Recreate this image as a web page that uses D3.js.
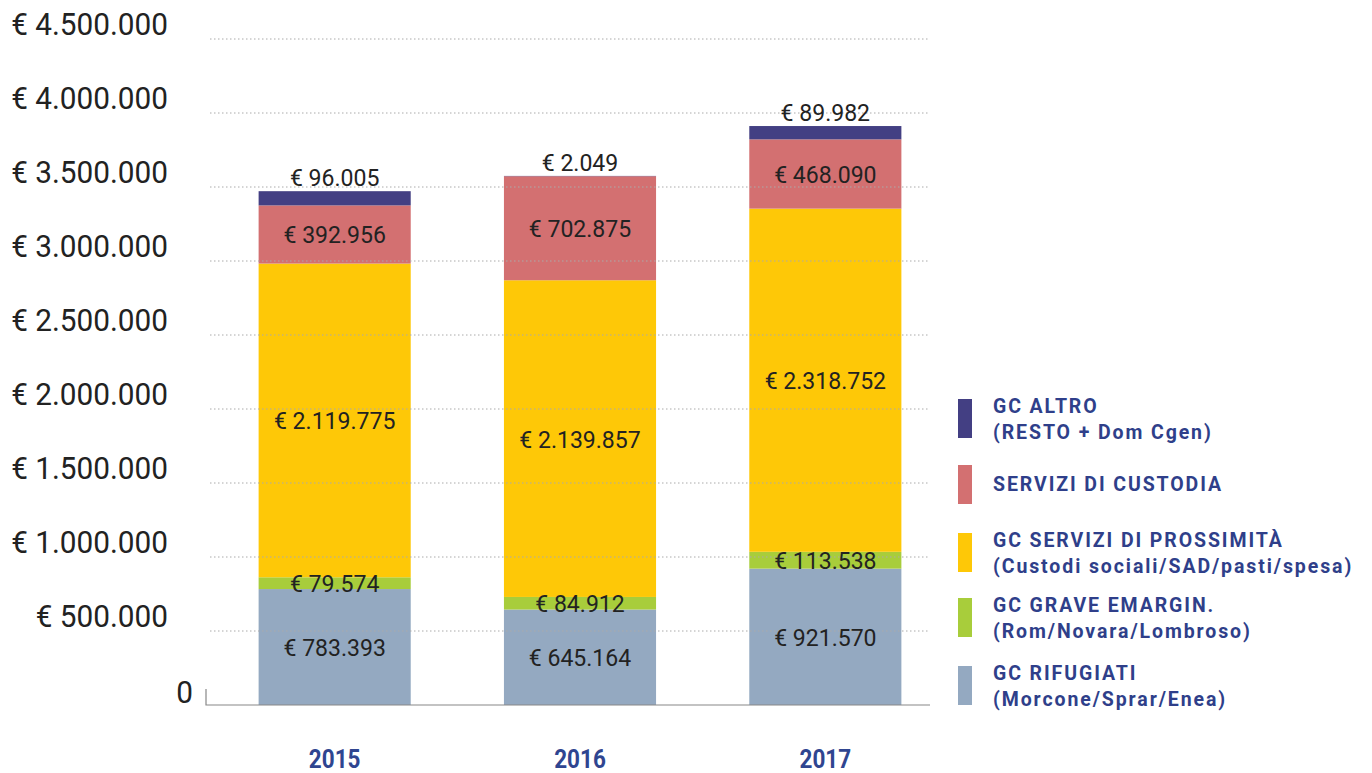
<!DOCTYPE html>
<html>
<head>
<meta charset="utf-8">
<script src="https://cdn.jsdelivr.net/npm/d3@7"></script>
<style>
  body { margin: 0; background: #fff; }
  .ylab { font-family: Roboto, sans-serif; font-size: 32px; fill: #222; }
  .val { font-family: Roboto, sans-serif; font-size: 24px; fill: #222; }
  .leg { font-family: Roboto, sans-serif; font-weight: bold; font-size: 19.5px; fill: #2f3f8a; letter-spacing: 1.9px; }
  .xlab { font-family: Roboto, sans-serif; font-weight: bold; font-size: 25px; fill: #2f4590; }
</style>
</head>
<body>
<script>
// data
var years = ['2015', '2016', '2017'];
var series = ['rifugiati', 'emargin', 'prossimita', 'custodia', 'altro'];
var rifugiati  = [783393, 645164, 921570];
var emargin    = [79574, 84912, 113538];
var prossimita = [2119775, 2139857, 2318752];
var custodia   = [392956, 702875, 468090];
var altro      = [96005, 2049, 89982];
var yTicks = [0, 500000, 1000000, 1500000, 2000000, 2500000, 3000000, 3500000, 4000000, 4500000];
var legendLines = [
  ['GC ALTRO', '(RESTO + Dom Cgen)'],
  ['SERVIZI DI CUSTODIA'],
  ['GC SERVIZI DI PROSSIMITÀ', '(Custodi sociali/SAD/pasti/spesa)'],
  ['GC GRAVE EMARGIN.', '(Rom/Novara/Lombroso)'],
  ['GC RIFUGIATI', '(Morcone/Sprar/Enea)']
];

var colors = {
  rifugiati: '#94a9c1', emargin: '#a8cd3b', prossimita: '#fec807',
  custodia: '#d37071', altro: '#433f83'
};

var width = 1372, height = 773;

var svg = d3.select('body').append('svg')
    .attr('width', width)
    .attr('height', height);

var rows = years.map(function(y, i) {
  return { year: y, rifugiati: rifugiati[i], emargin: emargin[i], prossimita: prossimita[i],
           custodia: custodia[i], altro: altro[i] };
});

var x = d3.scaleBand().domain(years).range([212, 948]).paddingInner(0.38).paddingOuter(0.19);
var y = d3.scaleLinear().domain([0, 4500000]).range([705, 39]);

var fmt = d3.formatLocale({ decimal: ',', thousands: '.', grouping: [3], currency: ['€ ', ''] }).format('$,.0f');

var stack = d3.stack().keys(series)(rows);

// bars
var layers = svg.append('g').selectAll('g')
    .data(stack)
  .enter().append('g')
    .attr('fill', function(d) { return colors[d.key]; });

layers.selectAll('rect')
    .data(function(d) { return d; })
  .enter().append('rect')
    .attr('x', function(d) { return x(d.data.year); })
    .attr('y', function(d) { return y(d[1]); })
    .attr('width', x.bandwidth())
    .attr('height', function(d) { return y(d[0]) - y(d[1]); });

// grid lines (drawn over bars, dotted)
svg.append('g').selectAll('line')
    .data(yTicks.slice(1))
  .enter().append('line')
    .attr('x1', 210).attr('x2', 930)
    .attr('y1', function(d) { return y(d); })
    .attr('y2', function(d) { return y(d); })
    .style('stroke', '#aaa')
    .style('stroke-width', 1)
    .style('stroke-dasharray', '1.5,2.5');

// baseline
svg.append('path')
    .attr('d', 'M206,' + (y(0) - 16) + 'V' + y(0) + 'H930')
    .style('fill', 'none')
    .style('stroke', '#888')
    .style('stroke-width', 1.2);

// y labels (narrowed to mimic the condensed face)
svg.append('g').selectAll('text')
    .data(yTicks)
  .enter().append('text')
    .attr('class', 'ylab')
    .attr('text-anchor', 'end')
    .attr('transform', function(d) {
      var tx = d === 0 ? 193 : 168, ty = y(d) - (d === 0 ? 2 : 4);
      return 'translate(' + tx + ',' + ty + ') scale(0.93,1)';
    })
    .text(function(d) { return d === 0 ? '0' : fmt(d); });

// value labels
stack.forEach(function(layer) {
  svg.append('g').selectAll('text')
      .data(layer)
    .enter().append('text')
      .attr('class', 'val')
      .attr('text-anchor', 'middle')
      .attr('transform', function(d) {
        var tx = x(d.data.year) + x.bandwidth() / 2;
        var ty = layer.key === 'altro' ? y(d[1]) - 5 : (y(d[0]) + y(d[1])) / 2 + 9;
        return 'translate(' + tx + ',' + ty + ') scale(0.96,1)';
      })
      .text(function(d) { return fmt(d.data[layer.key]); });
});

// x labels
svg.append('g').selectAll('text')
    .data(years)
  .enter().append('text')
    .attr('class', 'xlab')
    .attr('text-anchor', 'middle')
    .attr('transform', function(d) {
      return 'translate(' + (x(d) + x.bandwidth() / 2) + ',768) scale(0.9,1)';
    })
    .text(function(d) { return d; });

// legend
var legendKeys = series.slice().reverse();
var legendTop = [399, 465, 533, 598, 666];
var legend = svg.append('g').selectAll('g')
    .data(legendKeys)
  .enter().append('g')
    .attr('transform', function(d, i) { return 'translate(958,' + legendTop[i] + ')'; });

legend.append('rect')
    .attr('width', 14)
    .attr('height', 39)
    .attr('fill', function(d) { return colors[d]; });

legend.each(function(d, i) {
  var lines = legendLines[i];
  var g = d3.select(this);
  lines.forEach(function(t, j) {
    g.append('text')
      .attr('class', 'leg')
      .attr('x', 35)
      .attr('y', lines.length === 1 ? 26 : 14 + j * 26)
      .text(t);
  });
});
</script>
</body>
</html>
